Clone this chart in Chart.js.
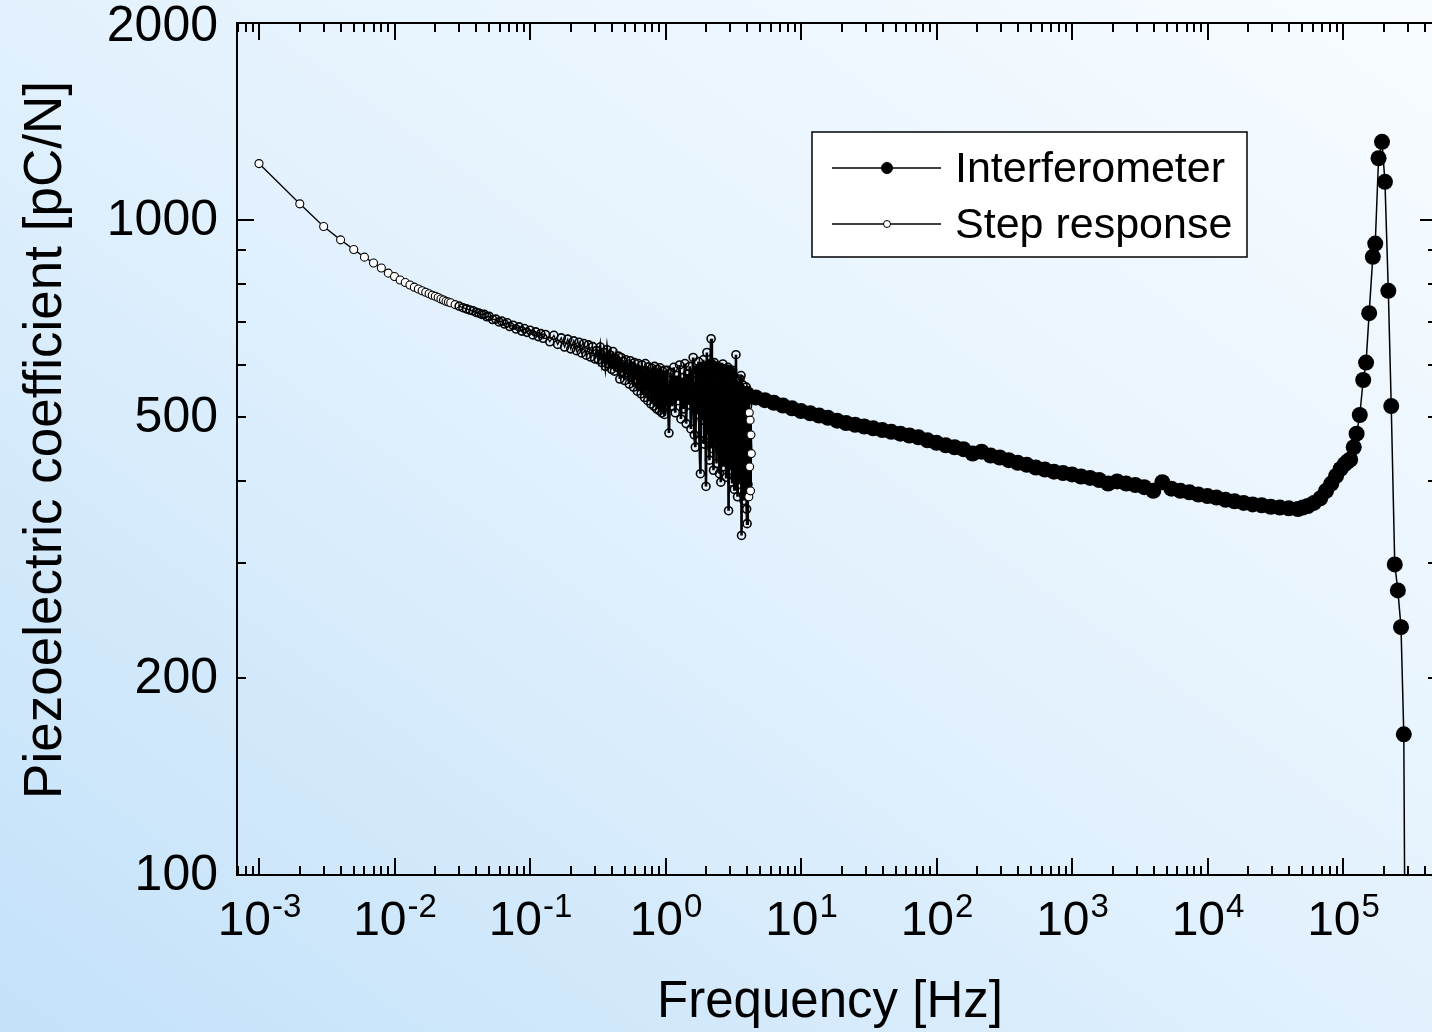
<!DOCTYPE html>
<html lang="en">
<head>
<meta charset="UTF-8">
<title>Piezoelectric coefficient vs frequency</title>
<script src="https://cdn.jsdelivr.net/npm/chart.js"></script>
<style>
    * { margin: 0; padding: 0; box-sizing: border-box; }
    html, body { width: 1432px; height: 1032px; overflow: hidden; }
    body { background: linear-gradient(to top right, #c3e1f9 0%, #e2f1fd 50%, #f8fcff 100%); }
    #wrap { position: absolute; left: 0; top: 0; width: 1470px; height: 1032px; }
</style>
</head>
<body>
<div id="wrap"><canvas id="chart" width="1470" height="1032"></canvas></div>
<script>
// step response (open circles)
const stepFreq = [
    0.001, 0.002, 0.003, 0.004, 0.005, 0.006, 0.007, 0.008, 0.009, 0.010,
    0.011, 0.012, 0.013, 0.014, 0.015, 0.016, 0.017, 0.018, 0.019, 0.020,
    0.021, 0.022, 0.023, 0.024, 0.025, 0.026, 0.028, 0.030, 0.032, 0.034,
    0.036, 0.038, 0.040, 0.042, 0.044, 0.046, 0.048, 0.050, 0.053, 0.056,
    0.059, 0.062, 0.065, 0.068, 0.071, 0.075, 0.079, 0.083, 0.087, 0.091,
    0.095, 0.100, 0.105, 0.110, 0.115, 0.120, 0.125, 0.130, 0.14, 0.15,
    0.16, 0.17, 0.18, 0.19, 0.20, 0.21, 0.22, 0.23, 0.24, 0.25,
    0.26, 0.27, 0.28, 0.29, 0.30,
    0.31, 0.32, 0.33, 0.34, 0.35, 0.36, 0.37, 0.38, 0.39, 0.40,
    0.41, 0.42, 0.43, 0.44, 0.45, 0.46, 0.47, 0.48, 0.49, 0.50,
    0.51, 0.52, 0.53, 0.54, 0.55, 0.56, 0.57, 0.58, 0.59, 0.60,
    0.61, 0.62, 0.63, 0.64, 0.65, 0.66, 0.67, 0.68, 0.69, 0.70,
    0.71, 0.72, 0.73, 0.74, 0.75, 0.76, 0.77, 0.78, 0.79, 0.80,
    0.81, 0.82, 0.83, 0.84, 0.85, 0.86, 0.87, 0.88, 0.89, 0.90,
    0.91, 0.92, 0.93, 0.94, 0.95, 0.96, 0.97, 0.98, 0.99, 1.00,
    1.03, 1.06, 1.09, 1.12, 1.15, 1.18, 1.21, 1.24, 1.27, 1.30,
    1.33, 1.36, 1.39, 1.42, 1.45, 1.48, 1.51, 1.54, 1.57, 1.60,
    1.63, 1.66, 1.69, 1.72, 1.75, 1.78, 1.81, 1.84, 1.87, 1.90,
    1.93, 1.96, 1.99, 2.02, 2.05, 2.08, 2.11, 2.14, 2.17, 2.20,
    2.23, 2.26, 2.29, 2.32, 2.35, 2.38, 2.41, 2.44, 2.47, 2.50,
    2.53, 2.56, 2.59, 2.62, 2.65, 2.68, 2.71, 2.74, 2.77, 2.80,
    2.83, 2.86, 2.89, 2.92, 2.95, 2.98, 3.01, 3.04, 3.07, 3.10,
    3.13, 3.16, 3.19, 3.22, 3.25, 3.28, 3.31, 3.34, 3.37, 3.40,
    3.43, 3.46, 3.49, 3.52, 3.55, 3.58, 3.61, 3.64, 3.67, 3.70,
    3.73, 3.76, 3.79, 3.82, 3.85, 3.88, 3.91, 3.94, 3.97, 4.00,
    4.03, 4.06, 4.09, 4.12, 4.15, 4.18, 4.21, 4.24, 4.27, 4.30
];
const stepVal = [
    1220, 1059, 978, 933, 902, 878, 860, 845, 830, 820,
    810, 803, 796, 790, 785, 780, 776, 772, 768, 765,
    762, 758, 755, 752, 750, 748, 743, 739, 735, 732,
    729, 727, 723, 721, 718, 718, 712, 713, 705, 706,
    699, 701, 694, 697, 688, 691, 682, 687, 677, 683,
    674, 679, 668, 675, 664, 671, 660, 669, 652, 667,
    646, 661, 640, 658, 636, 654, 632, 651, 627, 648,
    622, 645, 618, 641, 614,
    632, 612, 640, 606, 628, 598, 634, 603, 622, 592,
    630, 588, 615, 596, 620, 572, 617, 585, 608, 569,
    612, 580, 603, 562, 610, 575, 598, 556, 606, 570,
    592, 548, 604, 560, 590, 543, 601, 556, 588, 536,
    604, 552, 583, 530, 597, 545, 578, 524, 594, 540,
    585, 520, 598, 534, 575, 515, 592, 528, 580, 512,
    595, 522, 570, 508, 588, 518, 566, 505, 590, 520,
    590, 473, 585, 520, 596, 508, 579, 530, 601, 497,
    575, 515, 604, 489, 582, 522, 598, 480, 570, 617,
    470, 450, 590, 505, 608, 462, 410, 596, 495, 612,
    455, 580, 392, 628, 470, 600, 430, 590, 659, 448,
    585, 415, 606, 472, 577, 425, 598, 455, 568, 410,
    592, 398, 560, 440, 603, 420, 575, 452, 586, 405,
    560, 438, 596, 360, 548, 415, 578, 440, 562, 398,
    590, 425, 545, 388, 575, 432, 623, 410, 552, 378,
    568, 420, 540, 395, 572, 408, 579, 330, 535, 402,
    560, 380, 373, 548, 415, 532, 390, 556, 362, 344,
    520, 395, 540, 378, 508, 420, 495, 386, 470, 440
];

// interferometer (filled circles)
const ifmFreq = [
    1.85, 2.15, 2.5, 2.9, 3.4, 3.98, 4.64, 5.41, 6.31, 7.36,
    8.58, 10, 11.7, 13.6, 15.8, 18.5, 21.5, 25.1, 29.3, 34.1,
    39.8, 46.4, 54.1, 63.1, 73.6, 85.8, 100, 117, 136, 158,
    185, 215, 251, 293, 341, 398, 464, 541, 631, 736,
    858, 1000, 1166, 1359, 1585, 1848, 2154, 2512, 2929, 3415,
    3981, 4642, 5412, 6310, 7356, 8577, 10000, 11660, 13590, 15850,
    18480, 21540, 25120, 29290, 34150, 39810, 46420, 50500, 55000, 61000,
    68000, 75000, 82000, 89000, 96000, 103000, 108000, 113000, 120000, 126000,
    133000, 141000, 148000, 156000, 166000, 173000, 183000, 194000, 204000, 216000,
    227000, 241000, 254000, 268000, 281000, 292000
];
const ifmVal = [
    590, 597, 590, 585, 552, 543, 536, 531, 526, 521,
    516, 511, 507, 503, 499, 494, 490, 487, 484, 481,
    478, 475, 472, 469, 466, 461, 457, 453, 450, 447,
    440, 443, 437, 434, 430, 426, 423, 419, 416, 413,
    411, 409, 406, 404, 401, 396, 399, 396, 394, 391,
    386, 398, 389, 386, 384, 381, 379, 377, 374, 372,
    370, 368, 367, 365, 364, 363, 362, 364, 366, 370,
    376, 386, 396, 407, 417, 424, 428, 431, 450, 472,
    504, 570, 606, 721, 879, 921, 1243, 1317, 1144, 780,
    520, 298, 272, 239, 164, 40
];

const seriesNames = ['Interferometer', 'Step response'];
const xLabelExps = [-3, -2, -1, 0, 1, 2, 3, 4, 5];
const yLabelVals = [100, 200, 500, 1000, 2000];
const xTitle = 'Frequency [Hz]';
const yTitle = 'Piezoelectric coefficient [pC/N]';

const FONT = '"Liberation Sans", Arial, Helvetica, sans-serif';

const stepPts = stepFreq.map((f, i) => ({ x: f, y: stepVal[i] }));
const ifmPts = ifmFreq.map((f, i) => ({ x: f, y: ifmVal[i] }));

// axes frame, inward ticks, labels and the boxed legend
const framePlugin = {
    id: 'frame',
    afterDatasetsDraw(chart) {
        const { ctx, chartArea: a, scales: { x, y } } = chart;
        ctx.save();
        ctx.strokeStyle = '#000';
        ctx.fillStyle = '#000';
        ctx.lineWidth = 2;
        ctx.strokeRect(a.left, a.top, a.right - a.left, a.bottom - a.top);

        ctx.beginPath();
        for (let e = -4; e <= 6; e++) {
            for (let m = 1; m <= 9; m++) {
                const v = m * Math.pow(10, e);
                if (v < x.min * 1.0001 || v > x.max * 0.9999) continue;
                const px = Math.round(x.getPixelForValue(v));
                const len = m === 1 ? 17 : 9;
                ctx.moveTo(px, a.bottom); ctx.lineTo(px, a.bottom - len);
                ctx.moveTo(px, a.top); ctx.lineTo(px, a.top + len);
            }
        }
        for (let e = 2; e <= 3; e++) {
            for (let m = 1; m <= 9; m++) {
                const v = m * Math.pow(10, e);
                if (v < y.min * 0.9999 || v > y.max * 1.0001) continue;
                const py = Math.round(y.getPixelForValue(v));
                const len = m === 1 ? 17 : 9;
                ctx.moveTo(a.left, py); ctx.lineTo(a.left + len, py);
                ctx.moveTo(a.right, py); ctx.lineTo(a.right - len, py);
            }
        }
        ctx.stroke();

        // y tick labels
        ctx.font = '50px ' + FONT;
        ctx.textAlign = 'right';
        ctx.textBaseline = 'middle';
        yLabelVals.forEach(v => {
            const py = y.getPixelForValue(v) + (v === 2000 ? 4 : 1);
            ctx.fillText(String(v), a.left - 19, py);
        });

        // x tick labels as 10 with superscript exponent
        ctx.textAlign = 'left';
        ctx.textBaseline = 'alphabetic';
        xLabelExps.forEach(e => {
            const px = x.getPixelForValue(Math.pow(10, e));
            ctx.font = '48px ' + FONT;
            const wb = ctx.measureText('10').width;
            ctx.font = '33px ' + FONT;
            const sup = String(e);
            const ws = ctx.measureText(sup).width;
            const left = px - (wb + ws) / 2;
            ctx.font = '48px ' + FONT;
            ctx.fillText('10', left, 935);
            ctx.font = '33px ' + FONT;
            ctx.fillText(sup, left + wb + 1, 917);
        });

        // axis titles
        ctx.font = '51px ' + FONT;
        ctx.textAlign = 'center';
        ctx.fillText(xTitle, 830, 1017);
        ctx.save();
        ctx.translate(61, 440);
        ctx.rotate(-Math.PI / 2);
        ctx.font = '53px ' + FONT;
        ctx.fillText(yTitle, 0, 0);
        ctx.restore();

        // legend box
        const bx = 812, by = 132, bw = 435, bh = 125;
        ctx.fillStyle = '#fff';
        ctx.fillRect(bx, by, bw, bh);
        ctx.lineWidth = 1.5;
        ctx.strokeRect(bx, by, bw, bh);
        const rows = [
            { y: 168, r: 5.5, fill: '#000' },
            { y: 224, r: 3.5, fill: '#fff' }
        ];
        rows.forEach((row, i) => {
            ctx.beginPath();
            ctx.lineWidth = 1.3;
            ctx.strokeStyle = '#000';
            ctx.moveTo(832, row.y); ctx.lineTo(941, row.y);
            ctx.stroke();
            ctx.beginPath();
            ctx.arc(887, row.y, row.r, 0, Math.PI * 2);
            ctx.fillStyle = row.fill;
            ctx.fill();
            ctx.lineWidth = 1;
            ctx.stroke();
            ctx.fillStyle = '#000';
            ctx.font = '43px ' + FONT;
            ctx.textAlign = 'left';
            ctx.textBaseline = 'alphabetic';
            ctx.fillText(seriesNames[i], 955, row.y + 14);
        });
        ctx.restore();
    }
};

// the real record has a point every millisecond-hertz; thicker strokes in the
// noisy run stand in for that overlap
const isDense = x => x >= 0.03 && x <= 4.1;

new Chart(document.getElementById('chart'), {
    type: 'line',
    data: {
        datasets: [
            {
                label: seriesNames[0],
                data: ifmPts,
                borderColor: '#000',
                borderWidth: 1.5,
                pointRadius: 8,
                pointBackgroundColor: '#000',
                pointBorderColor: '#000',
                pointBorderWidth: 0,
                order: 0
            },
            {
                label: seriesNames[1],
                data: stepPts,
                borderColor: '#000',
                borderWidth: 1.3,
                segment: {
                    borderWidth: c => (c.p0.parsed.x >= 0.3 ? 2.6 : 1.3)
                },
                pointRadius: 4,
                pointBackgroundColor: c => (c.raw && isDense(c.raw.x)) ? 'rgba(255,255,255,0)' : '#fff',
                pointBorderColor: '#000',
                pointBorderWidth: c => (c.raw && isDense(c.raw.x)) ? 1.6 : 1.1,
                order: 1
            }
        ]
    },
    options: {
        responsive: false,
        animation: false,
        events: [],
        layout: { padding: { left: 237, right: 33, top: 23, bottom: 157 } },
        plugins: { legend: { display: false }, tooltip: { enabled: false } },
        scales: {
            x: { type: 'logarithmic', display: false, min: 6.88e-4, max: 4.94e5 },
            y: { type: 'logarithmic', display: false, min: 100, max: 2000 }
        }
    },
    plugins: [framePlugin]
});
</script>
</body>
</html>
